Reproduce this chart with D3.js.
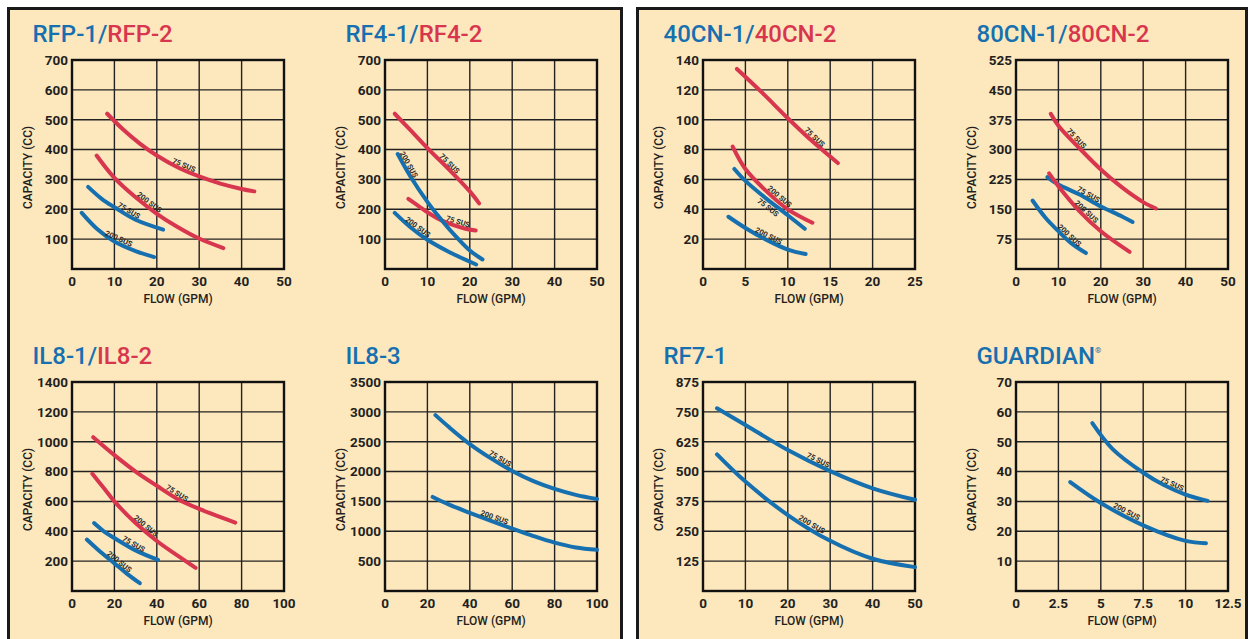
<!DOCTYPE html>
<html>
<head>
<meta charset="utf-8">
<script src="https://cdn.jsdelivr.net/npm/d3@7"></script>
<style>
body { margin: 0; background: #fff; }
svg { display: block; font-family: Roboto, "Noto Sans", sans-serif; }
</style>
</head>
<body>
<div id="chart"></div>
<script>
var BLUE = "#1670b0", RED = "#d8364e", PANEL_BG = "#fde7bd";

// tick labels
var xTicks50 = [0, 10, 20, 30, 40, 50];
var xTicks25 = [0, 5, 10, 15, 20, 25];
var xTicks100 = [0, 20, 40, 60, 80, 100];
var xTicks12 = [0, 2.5, 5, 7.5, 10, 12.5];
var yTicks700 = [100, 200, 300, 400, 500, 600, 700];
var yTicks140 = [20, 40, 60, 80, 100, 120, 140];
var yTicks525 = [75, 150, 225, 300, 375, 450, 525];
var yTicks1400 = [200, 400, 600, 800, 1000, 1200, 1400];
var yTicks3500 = [500, 1000, 1500, 2000, 2500, 3000, 3500];
var yTicks875 = [125, 250, 375, 500, 625, 750, 875];
var yTicks70 = [10, 20, 30, 40, 50, 60, 70];

// curves, [flow gpm, capacity cc]
var rfp2_75 = [[8.3,520],[12,468],[16,420],[20,380],[25,340],[30,310],[35,286],[40,268],[43,260]];
var rfp2_200 = [[5.8,380],[10,305],[15,240],[20,185],[25,140],[30,102],[35.7,70]];
var rfp1_75 = [[3.8,275],[7,235],[10,207],[15,165],[21.5,132]];
var rfp1_200 = [[2.3,188],[6,133],[10,92],[15,60],[19.4,40]];

var rf42_75a = [[2.3,520],[6,465],[10,405],[15,335],[20,260],[22.2,220]];
var rf42_75b = [[5.5,235],[8,210],[10,190],[13,165],[16,148],[19,135],[21.4,129]];
var rf41_200a = [[3,385],[6,310],[10,225],[13,170],[16,120],[20,62],[23,32]];
var rf41_200b = [[2.3,188],[6,140],[10,98],[15,58],[21.5,15]];

var cn402_75 = [[4,134],[7,118],[10,101],[13,85],[15.9,71]];
var cn402_200 = [[3.5,82],[5,67],[7.5,52],[10,40],[12.9,31]];
var cn401_75 = [[3.7,67],[5,59],[7.5,47],[10,36],[12,27]];
var cn401_200 = [[3,35],[5,27.5],[7.5,19.5],[10,13],[12.1,10]];

var cn802_75 = [[8.2,390],[10,360],[15,303],[20,250],[25,205],[30,168],[33,152]];
var cn802_200 = [[7.8,240],[10,208],[15,145],[20,95],[26.8,43]];
var cn801_75 = [[7.4,231],[10,212],[15,187],[20,157],[25,132],[27.5,118]];
var cn801_200 = [[3.9,172],[7,128],[10,95],[13,65],[16.5,40]];

var il82_75 = [[10,1030],[20,910],[30,800],[40,705],[50,615],[60,550],[70,495],[77,458]];
var il82_200 = [[9.6,785],[15,690],[20,600],[30,455],[40,335],[50,235],[58.3,155]];
var il81_75 = [[10.4,455],[15,400],[20,355],[30,272],[40.6,208]];
var il81_200 = [[7,345],[12,280],[20,185],[26,115],[32,52]];

var il83_75 = [[23.8,2945],[30,2750],[40,2460],[50,2220],[60,2010],[70,1840],[80,1710],[90,1610],[100,1540]];
var il83_200 = [[22.5,1575],[30,1450],[40,1310],[50,1175],[60,1045],[70,920],[80,810],[90,730],[100,690]];

var rf71_75 = [[3.3,765],[10,695],[20,590],[30,502],[40,430],[50,382]];
var rf71_200 = [[3.3,572],[10,458],[20,318],[30,210],[40,135],[50,100]];

var guard_75 = [[4.5,56.2],[5.7,47.5],[7.5,39.6],[8.75,35.4],[10,32.3],[11.3,30.2]];
var guard_200 = [[3.2,36.5],[5,29.5],[7.5,22],[10,16.8],[11.2,16]];

var colLeft = [72, 385, 703, 1016];
var rowTop = [60, 382];
var plotW = 212, plotH = 209;

var charts = [
    {col: 0, row: 0, title: [["RFP-1/", BLUE], ["RFP-2", RED]], xd: 50, yd: 700, xt: xTicks50, yt: yTicks700,
     series: [
        {d: rfp2_75, c: RED, label: "75 SUS", at: 26},
        {d: rfp2_200, c: RED, label: "200 SUS", at: 17.6},
        {d: rfp1_75, c: BLUE, label: "75 SUS", at: 12.9},
        {d: rfp1_200, c: BLUE, label: "200 SUS", at: 10.6}]},
    {col: 1, row: 0, title: [["RF4-1/", BLUE], ["RF4-2", RED]], xd: 50, yd: 700, xt: xTicks50, yt: yTicks700,
     series: [
        {d: rf42_75a, c: RED, label: "75 SUS", at: 14.5},
        {d: rf42_75b, c: RED, label: "75 SUS", at: 16.9},
        {d: rf41_200a, c: BLUE, label: "200 SUS", at: 4.7},
        {d: rf41_200b, c: BLUE, label: "200 SUS", at: 7.1}]},
    {col: 2, row: 0, title: [["40CN-1/", BLUE], ["40CN-2", RED]], xd: 25, yd: 140, xt: xTicks25, yt: yTicks140,
     series: [
        {d: cn402_75, c: RED, label: "75 SUS", at: 12.8},
        {d: cn401_75, c: BLUE, label: "75 SUS", at: 8.1, below: true},
        {d: cn402_200, c: RED, label: "200 SUS", at: 8.7},
        {d: cn401_200, c: BLUE, label: "200 SUS", at: 7.5}]},
    {col: 3, row: 0, title: [["80CN-1/", BLUE], ["80CN-2", RED]], xd: 50, yd: 525, xt: xTicks50, yt: yTicks525,
     series: [
        {d: cn802_75, c: RED, label: "75 SUS", at: 13.5},
        {d: cn801_75, c: BLUE, label: "75 SUS", at: 16.6},
        {d: cn802_200, c: RED, label: "200 SUS", at: 15.9},
        {d: cn801_200, c: BLUE, label: "200 SUS", at: 11.9}]},
    {col: 0, row: 1, title: [["IL8-1/", BLUE], ["IL8-2", RED]], xd: 100, yd: 1400, xt: xTicks100, yt: yTicks1400,
     series: [
        {d: il82_75, c: RED, label: "75 SUS", at: 48.4},
        {d: il82_200, c: RED, label: "200 SUS", at: 33.5},
        {d: il81_75, c: BLUE, label: "75 SUS", at: 28},
        {d: il81_200, c: BLUE, label: "200 SUS", at: 21}]},
    {col: 1, row: 1, title: [["IL8-3", BLUE]], xd: 100, yd: 3500, xt: xTicks100, yt: yTicks3500,
     series: [
        {d: il83_75, c: BLUE, label: "75 SUS", at: 53.2},
        {d: il83_200, c: BLUE, label: "200 SUS", at: 50.9}]},
    {col: 2, row: 1, title: [["RF7-1", BLUE]], xd: 50, yd: 875, xt: xTicks50, yt: yTicks875,
     series: [
        {d: rf71_75, c: BLUE, label: "75 SUS", at: 26.7},
        {d: rf71_200, c: BLUE, label: "200 SUS", at: 25.1}]},
    {col: 3, row: 1, title: [["GUARDIAN", BLUE]], reg: true, xd: 12.5, yd: 70, xt: xTicks12, yt: yTicks70,
     series: [
        {d: guard_75, c: BLUE, label: "75 SUS", at: 9.1},
        {d: guard_200, c: BLUE, label: "200 SUS", at: 6.4}]}
];

var svg = d3.select("#chart").append("svg")
    .attr("width", 1249)
    .attr("height", 639);

// the two big panels
svg.append("rect")
    .attr("x", 8.5).attr("y", 8.5).attr("width", 613).attr("height", 660)
    .attr("fill", PANEL_BG).attr("stroke", "#1a1a1a").attr("stroke-width", 3);
svg.append("rect")
    .attr("x", 637.5).attr("y", 8.5).attr("width", 609).attr("height", 660)
    .attr("fill", PANEL_BG).attr("stroke", "#1a1a1a").attr("stroke-width", 3);

// value at flow x, linear between points
function valueAt(d, x) {
    for (var i = 0; i < d.length - 1; i++) {
        if (x >= d[i][0] && x <= d[i + 1][0]) {
            var t = (x - d[i][0]) / (d[i + 1][0] - d[i][0]);
            return d[i][1] + t * (d[i + 1][1] - d[i][1]);
        }
    }
    return d[d.length - 1][1];
}

charts.forEach(function (c) {
    var left = colLeft[c.col], top = rowTop[c.row];
    var x = d3.scaleLinear().domain([0, c.xd]).range([left, left + plotW]);
    var y = d3.scaleLinear().domain([0, c.yd]).range([top + plotH, top]);
    var g = svg.append("g");

    // title
    var t = g.append("text")
        .attr("x", left - 39.5)
        .attr("y", top - 18.5)
        .style("font-size", "24px")
        .style("font-weight", 500);
    c.title.forEach(function (p) {
        t.append("tspan").attr("fill", p[1]).text(p[0]);
    });
    if (c.reg) {
        t.append("tspan").attr("fill", BLUE).attr("dy", -11).style("font-size", "8px").text("®");
    }

    // grid
    g.append("g").selectAll("line.v")
        .data(c.xt.slice(1, -1))
        .enter().append("line")
            .attr("x1", d => x(d)).attr("x2", d => x(d))
            .attr("y1", top).attr("y2", top + plotH)
            .attr("stroke", "#222").attr("stroke-width", 1.4);
    g.append("g").selectAll("line.h")
        .data(c.yt.slice(0, -1))
        .enter().append("line")
            .attr("x1", left).attr("x2", left + plotW)
            .attr("y1", d => y(d)).attr("y2", d => y(d))
            .attr("stroke", "#222").attr("stroke-width", 1.4);
    g.append("rect")
        .attr("x", left).attr("y", top).attr("width", plotW).attr("height", plotH)
        .attr("fill", "none").attr("stroke", "#111").attr("stroke-width", 2.4);

    // tick labels
    g.append("g").selectAll("text")
        .data(c.xt)
        .enter().append("text")
            .attr("x", d => x(d))
            .attr("y", top + plotH + 16.5)
            .attr("text-anchor", "middle")
            .attr("fill", "#231f20")
            .style("font-size", "13.5px")
            .style("font-weight", 700)
            .text(d => d);
    g.append("g").selectAll("text")
        .data(c.yt)
        .enter().append("text")
            .attr("x", left - 4)
            .attr("y", d => y(d) + 4.8)
            .attr("text-anchor", "end")
            .attr("fill", "#231f20")
            .style("font-size", "13.5px")
            .style("font-weight", 700)
            .text(d => d);

    // axis titles
    g.append("text")
        .attr("x", left + plotW / 2)
        .attr("y", top + plotH + 33.5)
        .attr("text-anchor", "middle")
        .attr("fill", "#231f20")
        .style("font-size", "12px")
        .style("font-weight", 500)
        .text("FLOW (GPM)");
    g.append("text")
        .attr("transform", "translate(" + (left - 40) + "," + (top + plotH / 2 + 3) + ") rotate(-90)")
        .attr("text-anchor", "middle")
        .attr("fill", "#231f20")
        .style("font-size", "12px")
        .style("font-weight", 500)
        .text("CAPACITY (CC)");

    // curves
    var line = d3.line()
        .x(d => x(d[0]))
        .y(d => y(d[1]))
        .curve(d3.curveCatmullRom.alpha(0.5));
    c.series.forEach(function (s) {
        g.append("path")
            .attr("d", line(s.d))
            .attr("fill", "none")
            .attr("stroke", s.c)
            .attr("stroke-width", 4)
            .attr("stroke-linecap", "round");
    });

    // SUS labels along the curves
    c.series.forEach(function (s) {
        var dx = c.xd / 200;
        var px = x(s.at), py = y(valueAt(s.d, s.at));
        var ang = Math.atan2(y(valueAt(s.d, s.at + dx)) - y(valueAt(s.d, s.at - dx)),
                             x(s.at + dx) - x(s.at - dx)) * 180 / Math.PI;
        g.append("text")
            .attr("transform", "translate(" + px + "," + py + ") rotate(" + ang + ")")
            .attr("y", s.below ? 8.5 : -2)
            .attr("text-anchor", "middle")
            .attr("fill", "#2b2b2b")
            .style("font-size", "7.5px")
            .style("font-weight", 700)
            .text(s.label);
    });
});
</script>
</body>
</html>
